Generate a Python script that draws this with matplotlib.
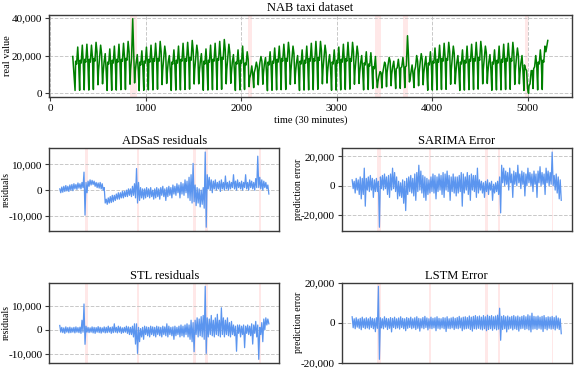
import matplotlib
matplotlib.use("Agg")
import matplotlib.pyplot as plt
from matplotlib.ticker import MultipleLocator, FuncFormatter

plt.rcParams['font.family'] = ['Liberation Serif', 'DejaVu Serif']

# ---------------- data (values in thousands) ----------------
# NAB taxi: first/last sample, then values for each day (day index k)
first_t, first_v = 234, 19.5
last_t, last_v = 5212, 28.0
day0 = 258          # time index of first daily trough
day_len = 48        # samples per day (30 min)

taxi_lo = [1.5, 1.6, 1.8, 1.7, 2.0, 4.5, 5.0,
           1.5, 1.6, 1.7, 1.9, 2.0, 4.8, 5.5,
           1.4, 1.6, 1.8, 1.8, 2.1, 4.6, 5.2,
           1.5, 1.7, 1.8, 2.0, 2.2, 4.9, 5.0,
           1.6, 1.7, 1.9, 2.0, 2.1, 5.0, 5.3,
           1.5, 1.8, 2.0, 3.5, 3.0, 4.5, 4.8,
           1.4, 1.6, 1.8, 1.9, 2.0, 4.7, 5.1,
           1.5, 1.7, 1.8, 1.9, 2.1, 5.0, 5.4,
           1.6, 1.7, 1.8, 2.0, 2.2, 4.8, 5.2,
           1.8, 2.0, 2.5, 3.0, 2.8, 3.5, 4.0,
           2.5, 2.6, 3.0, 6.0, 3.0, 4.0, 4.5,
           1.6, 1.7, 1.8, 2.0, 2.1, 4.8, 5.0,
           1.5, 1.7, 1.9, 2.0, 2.2, 5.0, 5.2,
           1.6, 1.8, 1.8, 2.0, 2.1, 4.7, 5.0,
           1.5, 0.0, 2.5, 1.8, 2.0]
taxi_am = [17, 17.5, 18, 18, 18.5, 12, 10.5,
           16.5, 17.5, 18, 18, 18.5, 12.5, 11,
           16.5, 17, 18, 18.5, 18.5, 12, 10.5,
           16.5, 17.5, 18, 18.5, 19, 12.5, 11,
           17, 17.5, 18, 18.5, 19, 12.5, 10.5,
           16.5, 17.5, 16, 8, 11, 11.5, 10.5,
           16.5, 17, 18, 18.5, 18.5, 12, 10.5,
           17, 17.5, 18.5, 18.5, 19, 12.5, 11,
           16.5, 17.5, 18, 18.5, 18.5, 12, 10.5,
           16, 15.5, 14, 6, 10, 11, 10,
           13, 13.5, 14, 7, 12, 11, 10.5,
           16, 17, 18, 18.5, 18.5, 12, 10.5,
           16.5, 17.5, 18, 18.5, 19, 12.5, 11,
           16.5, 17.5, 18, 18.5, 18.5, 12, 10.5,
           15, 4, 13, 16.5, 17.5]
taxi_noon = [15.5, 16, 16.5, 16.5, 17, 18, 16.5,
             15.5, 16, 16.5, 17, 17.5, 18.5, 16,
             15, 16, 16.5, 17, 17, 18, 16.5,
             15.5, 16, 17, 17, 17.5, 18.5, 16.5,
             15.5, 16.5, 17, 17.5, 18, 18.5, 16.5,
             15.5, 16, 15, 10, 13, 16, 15.5,
             15, 16, 16.5, 17, 17, 18, 16,
             15.5, 16, 17, 17, 17.5, 18.5, 16.5,
             15.5, 16, 16.5, 17, 17, 18, 16,
             15, 14.5, 13, 9, 13, 15, 14,
             13.5, 14, 14.5, 11, 14, 16, 15,
             15, 16, 16.5, 17, 17.5, 18, 16,
             15.5, 16, 17, 17, 17.5, 18.5, 16.5,
             15.5, 16, 16.5, 17, 17, 18, 16,
             13, 5, 14, 15.5, 16.5]
taxi_hi = [24.5, 25.5, 26.0, 25.5, 27.0, 25.5, 21.0,
           23.5, 25.0, 26.0, 26.5, 27.5, 39.5, 20.5,
           22.5, 24.5, 25.5, 26.5, 27.5, 25.0, 20.0,
           23.0, 25.0, 26.5, 27.0, 28.0, 25.5, 21.0,
           23.5, 25.5, 26.5, 27.5, 28.5, 26.0, 20.5,
           23.0, 25.0, 22.0, 14.5, 16.5, 19.5, 19.0,
           22.0, 24.0, 25.0, 26.0, 27.0, 25.0, 20.0,
           23.0, 25.0, 26.5, 27.5, 27.5, 25.5, 20.5,
           23.0, 24.5, 26.0, 27.0, 27.0, 25.0, 20.0,
           22.0, 21.5, 19.5, 11.5, 16.5, 19.0, 17.0,
           18.0, 19.0, 30.5, 15.0, 20.0, 21.0, 19.5,
           22.0, 24.0, 25.5, 26.5, 27.0, 25.0, 20.0,
           23.0, 25.0, 26.0, 27.0, 27.5, 25.0, 20.5,
           23.0, 25.0, 26.0, 26.5, 27.0, 24.0, 20.0,
           12.0, 12.0, 20.0, 23.0, 25.0]
taxi_late = [15, 16, 17, 19, 22, 21, 12,
             15, 16, 17, 19, 22, 22, 12.5,
             14.5, 16, 17, 19, 22, 21, 12,
             15, 16, 17.5, 19.5, 22.5, 21.5, 12.5,
             15, 16.5, 17.5, 19.5, 23, 21.5, 12,
             15, 16, 18, 10, 14, 17, 11.5,
             14.5, 16, 17, 19, 22, 21, 12,
             15, 16.5, 17.5, 19.5, 22.5, 21.5, 12.5,
             15, 16, 17, 19, 22, 21, 12,
             14.5, 15, 9, 11, 15, 17, 11,
             13, 14, 20, 10, 17, 18, 12,
             14.5, 16, 17, 19, 22, 21, 12,
             15, 16.5, 17.5, 19.5, 22.5, 21.5, 12.5,
             15, 16, 17, 19, 21.5, 20, 11.5,
             2.5, 12, 15, 17, 22]

# anomaly windows (time index)
anom_start = [832, 2067, 3402, 3690, 4975]
anom_end = [909, 2117, 3460, 3748, 5006]

# residual / error series: daily high and low (thousands), half-day spacing
res_t0 = 234
res_step = 24

adsas_hi = [0.5, 1.2, 1.5, 1.8, 1.5, 2.0, 2.2,
            2.5, 2.2, 2.8, 2.5, 3.0, 7.0, 3.0,
            3.5, 4.0, 3.8, 3.5, 3.0, 2.8, 3.0,
            2.5, 1.0, -3.5, -3.0, -2.5, -2.0, -2.0,
            -1.5, -1.0, -1.0, -0.5, -0.5, 0.0, 0.5,
            0.5, 1.5, 2.5, 8.4, 3.0, 1.0, 0.5,
            0.5, 1.0, 0.5, 1.0, 0.0, 0.5, 1.0,
            0.5, 1.0, 1.5, 0.5, 1.0, 1.5, 1.0,
            2.0, 1.5, 2.5, 2.0, 3.0, 2.5, 4.0,
            3.5, 5.0, 6.0, 10.4, 2.0, 1.0, 0.5,
            0.0, 1.0, 14.8, 6.0, 5.0, 4.0, 3.5,
            4.0, 3.0, 3.5, 4.0, 3.0, 5.5, 3.0,
            3.5, 3.0, 6.0, 3.5, 4.0, 3.0, 3.5,
            3.0, 6.0, 3.0, 4.0, 3.5, 3.0, 4.5,
            13.2, 5.0, 4.0, 3.5, 3.0, 2.0]
adsas_lo = [-1.0, -0.8, -0.5, -0.3, -0.5, 0.0, -0.2,
            0.5, 0.3, 0.8, 0.5, 1.0, -9.7, -1.0,
            1.5, 2.0, 2.2, 1.5, 1.0, 0.8, 0.5,
            0.0, -5.0, -5.5, -5.0, -4.8, -4.5, -4.0,
            -3.5, -3.5, -3.0, -3.0, -2.5, -2.5, -2.0,
            -2.5, -2.0, -3.0, -5.0, -4.0, -3.0, -3.5,
            -3.0, -2.5, -3.0, -2.5, -3.5, -3.0, -2.5,
            -3.5, -2.0, -2.5, -4.0, -2.5, -2.0, -3.0,
            -1.5, -2.0, -1.0, -3.0, -1.5, -2.0, -1.0,
            -3.0, -4.0, -5.0, -4.5, -6.0, -5.0, -6.5,
            -5.5, -7.0, -14.4, 0.5, 0.0, -1.0, 0.5,
            0.0, 0.5, -0.5, 0.5, 0.0, 0.5, 0.0,
            0.5, 1.0, 0.5, 0.0, 1.0, 0.5, 0.0,
            1.0, 0.5, 0.0, 1.0, 0.5, 0.0, 1.0,
            1.0, 0.5, 0.0, 1.0, 0.5, -1.5]

stl_hi = [1.8, 1.0, 0.8, 1.2, 0.9, 1.1, 0.8,
          1.0, 1.2, 0.9, 1.1, 4.0, 10.8, 1.5,
          1.0, 0.8, 1.2, 1.0, 0.9, 1.3, 1.0,
          0.8, 1.2, 1.0, 1.5, 1.0, 1.2, 2.5,
          1.0, 1.5, 1.2, 0.8, 1.0, 1.5, 1.2,
          1.0, 1.5, 2.5, 2.5, 1.0, 0.5, 1.0,
          1.5, 1.2, 1.0, 1.5, 1.2, 1.0, 1.5,
          1.2, 1.0, 1.5, 1.2, 2.5, 1.5, 1.0,
          1.2, 1.5, 1.0, 1.5, 2.0, 1.5, 2.0,
          2.5, 2.0, 4.0, 3.0, 4.0, 5.0, 4.5,
          5.5, 6.0, 18.2, 5.0, 4.5, 6.0, 4.0,
          5.0, 6.5, 4.0, 9.2, 5.0, 4.0, 5.0,
          3.0, 3.5, 2.0, 1.5, 2.0, 2.0, 1.5,
          2.0, 1.5, 2.0, 1.5, 2.5, 2.0, 3.5,
          2.0, 1.0, 3.0, 4.5, 5.0, 4.5]
stl_lo = [-1.0, -1.2, -1.5, -1.0, -1.3, -1.2, -1.0,
          -1.3, -1.0, -1.2, -1.5, -1.0, -6.1, -1.0,
          -1.2, -1.0, -1.3, -1.5, -1.0, -1.2, -1.4,
          -1.0, -1.3, -1.2, -1.0, -1.5, -1.2, -1.0,
          -1.3, -1.0, -1.5, -1.2, -1.0, -1.5, -2.0,
          -2.0, -3.0, -6.0, -9.9, -5.0, -3.0, -4.0,
          -2.0, -2.5, -3.0, -2.0, -2.5, -3.0, -2.0,
          -2.5, -3.0, -2.0, -2.5, -3.0, -2.0, -2.5,
          -4.0, -2.5, -2.0, -3.0, -2.5, -3.0, -2.0,
          -3.0, -4.0, -5.0, -9.2, -2.0, -3.0, -2.5,
          -3.0, -4.0, -9.9, -3.0, -2.0, -2.5, -3.0,
          -2.0, -2.5, -3.0, -2.0, -3.0, -2.0, -2.5,
          -3.0, -2.0, -2.5, -9.0, -1.5, -3.0, -2.0,
          -7.5, -1.5, -2.0, -2.5, -6.0, -1.5, -3.0,
          -12.4, -2.0, -5.0, 0.0, 2.0, 2.5]

sarima_hi = [4, 3, 5, 4, 6, 5, 12,
             5, 6, 7, 5, 4, 5, 3,
             6, 7, 8, 6, 7, 8, 12,
             9, 6, 3, 2, 4, 3, 5,
             6, 7, 5, 8, 9, 14, 10,
             7, 6, 5, 4, 6, 8, 7,
             6, 8, 7, 9, 8, 10, 7,
             6, 8, 6, 6, 7, 9, 8,
             6, 9, 7, 8, 7, 7, 12,
             4, 3, 2, 3, 4, 2, 3,
             1, 2, 3, 6, 14, 12, 10,
             9, 12, 8, 10, 9, 14, 8,
             10, 9, 8, 12, 9, 8, 10,
             8, 10, 13, 9, 8, 12, 10,
             9, 23, 7, 8, 6, 4]
sarima_lo = [-2, -5, -3, -6, -9, -6, -14,
             -3, -4, -3, -8, -4, -4, -28.4,
             -2, -3, -2, -6, -8, -3, -2,
             -4, -9, -7, -8, -12, -17, -6,
             -4, -5, -7, -10, -4, -3, -5,
             -8, -10, -6, -5, -4, -5, -9,
             -4, -3, -6, -8, -3, -4, -10,
             -4, -5, -7, -5, -4, -14, -5,
             -3, -6, -10, -3, -4, -8, -5,
             -3, -5, -8, -4, -6, -3, -10,
             -5, -4, -6, -18.6, 2, 0, 1,
             -3, 2, -8, 1, 0, 2, -2,
             1, -7, 0, 2, 0, -4, 1,
             -8, 2, 0, 1, -6, 2, 0,
             1, 0, -3, -5, -9, -10]

lstm_hi = [3.0, 2.0, 2.5, 1.8, 2.2, 2.8, 2.0,
           2.5, 2.0, 2.8, 2.2, 2.0, 2.5, 18.3,
           2.5, 2.0, 3.0, 2.2, 2.0, 2.6, 2.2,
           2.8, 2.0, 2.4, 3.0, 2.2, 2.0, 2.6,
           2.2, 2.8, 2.0, 2.5, 3.0, 2.2, 2.0,
           2.6, 3.2, 2.4, 2.0, 2.8, 2.2, 2.5,
           3.0, 2.2, 2.0, 2.6, 2.4, 3.0, 2.0,
           2.4, 2.8, 2.2, 2.6, 3.2, 2.4, 2.8,
           3.0, 2.6, 3.4, 2.8, 3.2, 3.6, 3.0,
           3.4, 2.8, 3.6, 3.0, 3.8, 3.2, 3.6,
           3.0, 3.4, 3.8, 7.3, 3.2, 3.6, 3.0,
           3.4, 2.8, 3.2, 3.6, 3.0, 3.4, 2.8,
           3.2, 3.6, 3.0, 4.0, 3.4, 4.8, 3.2,
           3.0, 3.4, 2.8, 3.2, 3.6, 2.6, 3.0,
           2.8, 3.2, 2.6, 3.4, 2.4, 2.0]
lstm_lo = [-2.5, -3.0, -2.2, -2.8, -3.5, -2.4, -3.0,
           -2.6, -3.2, -2.4, -3.0, -4.5, -2.8, -18.4,
           -2.6, -3.0, -2.2, -3.4, -2.8, -4.6, -2.4,
           -3.0, -2.6, -3.2, -2.4, -3.0, -4.0, -2.8,
           -2.4, -3.0, -2.6, -3.4, -2.8, -4.2, -2.6,
           -3.0, -2.4, -3.6, -2.8, -3.0, -2.6, -4.0,
           -2.8, -3.2, -2.6, -3.0, -4.4, -2.8, -3.0,
           -2.6, -3.4, -2.8, -3.0, -2.6, -4.0, -3.2,
           -3.0, -2.8, -3.4, -4.2, -3.0, -3.2, -2.8,
           -3.2, -3.6, -3.0, -4.0, -3.4, -3.0, -3.8,
           -3.0, -3.6, -3.2, -8.8, -3.4, -3.0, -4.6,
           -3.2, -2.8, -3.6, -3.0, -3.4, -4.2, -3.0,
           -2.8, -3.4, -3.0, -3.6, -4.6, -3.2, -3.0,
           -3.4, -2.8, -3.2, -4.4, -3.0, -3.6, -2.8,
           -3.2, -3.0, -3.6, -2.8, -3.4, -5.5]

titles = ["NAB taxi dataset", "ADSaS residuals", "SARIMA Error",
          "STL residuals", "LSTM Error"]

# ---------------- build series ----------------
day_offsets = [0, 6, 16, 28, 38]
taxi_t = [first_t]
taxi_v = [first_v * 1000]
for k in range(len(taxi_lo)):
    for off, arr in zip(day_offsets,
                        (taxi_lo, taxi_am, taxi_noon, taxi_hi, taxi_late)):
        taxi_t.append(day0 + day_len * k + off)
        taxi_v.append(arr[k] * 1000)
taxi_t.append(last_t)
taxi_v.append(last_v * 1000)


def interleave(hi, lo):
    vals = []
    for h, l in zip(hi, lo):
        vals += [h * 1000, l * 1000]
    t = [res_t0 + res_step * i for i in range(len(vals))]
    return t, vals


# ---------------- styling ----------------
GRID = '#c8c8c8'
SPINE = '#3a3a3a'
BLUE = '#5b95ef'
fmt = FuncFormatter(lambda v, p: f"{int(round(v)):,}")

fig = plt.figure(figsize=(5.74, 3.68), dpi=100)


def style(ax, step, xgrid):
    for s in ax.spines.values():
        s.set_color(SPINE)
        s.set_linewidth(1.0)
    ax.yaxis.set_major_locator(MultipleLocator(step))
    ax.yaxis.set_major_formatter(fmt)
    ax.tick_params(axis='both', labelsize=8, length=3, width=0.8,
                   color=SPINE, pad=2)
    ax.grid(True, axis='y', color=GRID, linestyle='--', linewidth=0.7)
    if xgrid:
        ax.grid(True, axis='x', color=GRID, linestyle='--', linewidth=0.7)
    ax.set_axisbelow(True)
    for s, e in zip(anom_start, anom_end):
        ax.axvspan(s, e, color='red', alpha=0.09, lw=0, zorder=0)


ax0 = fig.add_axes([0.0854, 0.7364, 0.9103, 0.2228])
ax0.plot(taxi_t, taxi_v, color='green', lw=1.1)
style(ax0, 20000, True)
ax0.set_title(titles[0], fontsize=9, pad=3)
ax0.set_ylabel("real value", fontsize=7.5)
ax0.yaxis.set_label_coords(-0.071, 0.5)
ax0.set_xlabel("time (30 minutes)", fontsize=7.5, labelpad=2)

panels = [
    ([0.0859, 0.3723, 0.4007, 0.2247], adsas_hi, adsas_lo, titles[1], "residuals", 10000),
    ([0.5953, 0.3723, 0.4007, 0.2247], sarima_hi, sarima_lo, titles[2], "prediction error", 20000),
    ([0.0859, 0.0136, 0.4007, 0.2182], stl_hi, stl_lo, titles[3], "residuals", 10000),
    ([0.5953, 0.0136, 0.4007, 0.2182], lstm_hi, lstm_lo, titles[4], "prediction error", 20000),
]
for rect, hi, lo, title, ylab, step in panels:
    ax = fig.add_axes(rect)
    t, v = interleave(hi, lo)
    ax.plot(t, v, color=BLUE, lw=0.9)
    style(ax, step, False)
    ax.set_xticks([])
    ax.set_title(title, fontsize=9, pad=3)
    ax.set_ylabel(ylab, fontsize=7)
    ax.yaxis.set_label_coords(-0.168, 0.5)

fig.savefig("out.png", dpi=100)
